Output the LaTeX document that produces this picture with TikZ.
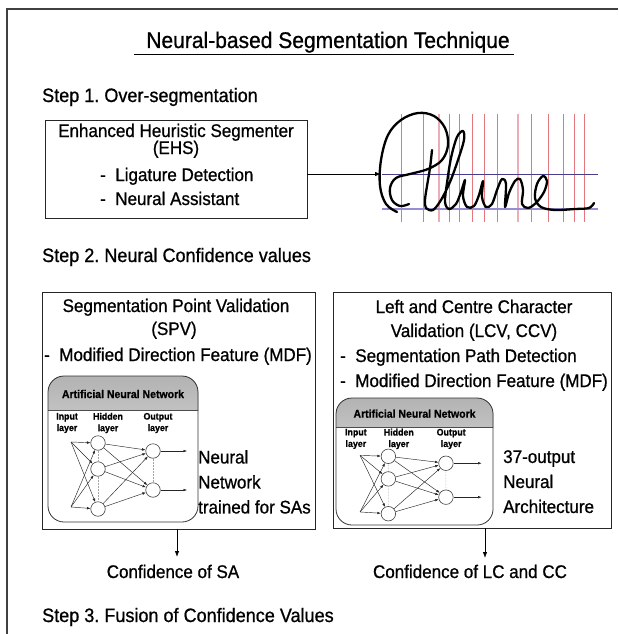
\documentclass[tikz,border=0pt]{standalone}
\usepackage{fontspec}
\setmainfont{Liberation Sans}[FakeStretch=0.93, FakeBold=0.8]
\usepackage{tikz}
\usetikzlibrary{arrows.meta,positioning,calc}
\definecolor{segred}{RGB}{228,118,126}
\definecolor{segpink}{RGB}{240,172,182}
\definecolor{zoneblue}{RGB}{72,62,140}
\definecolor{zonelav}{RGB}{150,142,212}
\frenchspacing

\begin{document}
\begin{tikzpicture}[
  x=1pt, y=-1pt,
  box/.style={draw=black!85, line width=0.9pt, inner sep=0pt},
  txt/.style={inner sep=0pt, font=\fontsize{18.3}{25}\selectfont},
  steplab/.style={inner sep=0pt, anchor=base west, font=\fontsize{19.4}{22}\selectfont},
  arr/.style={-{Latex[length=6pt,width=4.5pt]}, line width=0.8pt},
  cut/.style={segred, line width=0.8pt},
  ink/.style={line width=2.3pt, line cap=round, line join=round},
  neuron/.style={circle, draw=black!75, fill=white, line width=0.6pt, minimum size=14.5pt, inner sep=0pt},
  syn/.style={-{Latex[length=3.5pt,width=2.6pt]}, line width=0.45pt, draw=black!85},
  dotl/.style={densely dotted, draw=black!35, line width=0.5pt},
  lay/.style={inner sep=0pt, align=center, font=\bfseries\fontsize{9.5}{11.5}\selectfont},
  annlab/.style={inner sep=0pt, font=\bfseries\fontsize{11.3}{13}\selectfont}
]
\useasboundingbox (0,0) rectangle (618,634);
\draw[line width=1.2pt, black!75] (7,634) -- (7,9) -- (618,9);

\node[inner sep=0pt, anchor=base, font=\fontsize{22.6}{26}\selectfont] (title) at (328,48) {Neural-based Segmentation Technique};
\draw[line width=1pt] ($(title.base west)+(-12,7)$) -- ($(title.base east)+(4,7)$);

\node[steplab] (step1) at (42,102) {Step 1. Over-segmentation};
\node[steplab] (step2) at (42,262) {Step 2. Neural Confidence values};
\node[steplab] (step3) at (42,622) {Step 3. Fusion of Confidence Values};

\node[box, minimum width=262pt, minimum height=98pt] (ehs) at (176,169) {};
\node[txt, anchor=base] (ehsname) at (176,137) {Enhanced Heuristic Segmenter};
\node[txt, anchor=base] (ehsabbr) at (176,154) {(EHS)};
\node[txt, anchor=base west] (lig) at (100,181) {-\ \ Ligature Detection};
\node[txt, anchor=base west] (nass) at (100,205) {-\ \ Neural Assistant};

\foreach \x in {401.7,423.3,449.3,459.3,472,484.5,497.3,531.7,548.7,563,574.3,584.3}
  \draw[cut] (\x,114) -- (\x,222);
\foreach \x in {439,518}
  \draw[segpink, line width=1.3pt] (\x,114) -- (\x,222);
\draw[zoneblue, line width=0.9pt] (382,174) -- (598,174);
\draw[zonelav, line width=1.5pt] (382,209) -- (598,209);
\coordinate (word) at (381,174);
\draw[arr] (ehs.east |- word) -- (word);

\draw[ink] plot[smooth, tension=0.6] coordinates {(397,212) (386,204) (380,186) (381,160) (388,135) (401,120) (418,113) (434,116) (445,128) (448,145) (442,160) (428,169) (410,174) (396,178) (390,188) (392,200) (400,206) (409,204)};
\draw[ink] plot[smooth, tension=0.55] coordinates {(432,150) (430,168) (427,186) (425,200) (426,208) (433,210) (441,200) (450,182) (458,160) (464,140) (463,131) (457,137) (451,158) (447,183) (445,202) (449,209) (456,204) (461,192) (465,180) (463,196) (467,207) (474,206) (479,195) (483,181) (482,197) (486,207) (492,204) (497,190) (502,179) (506,184) (505,207) (509,193) (515,181) (520,179) (523,190) (522,204) (528,208) (536,203) (544,192) (547,181) (543,176) (537,184) (535,198) (541,207) (555,210) (575,209) (589,208) (594,203)};

\node[box, minimum width=273pt, minimum height=237pt] (spv) at (178.5,410.5) {};
\node[box, minimum width=278pt, minimum height=236pt] (lcv) at (472,410) {};

\node[txt, anchor=base] (spvname) at (176,312) {Segmentation Point Validation};
\node[txt, anchor=base] (spvabbr) at (174,335) {(SPV)};
\node[txt, anchor=base west] (spvmdf) at (44,361) {-\ \ Modified Direction Feature (MDF)};
\node[txt, anchor=north west, align=left] (spvnote) at (198,450) {Neural\\Network\\trained for SAs};

\node[txt, anchor=base] (lcvname) at (474,313) {Left and Centre Character};
\node[txt, anchor=base] (lcvabbr) at (474,337) {Validation (LCV, CCV)};
\node[txt, anchor=base west] (lcvpath) at (340,362) {-\ \ Segmentation Path Detection};
\node[txt, anchor=base west] (lcvmdf) at (340,387) {-\ \ Modified Direction Feature (MDF)};
\node[txt, anchor=north west, align=left] (lcvnote) at (503,450) {37-output\\Neural\\Architecture};

\foreach \nm/\ox/\oy/\sx/\sy in {annl/48/376/1/1, annr/336/398/1.047/0.87} {
  \begin{scope}[shift={(\ox,\oy)}, xscale=\sx, yscale=\sy]
    \fill[white, rounded corners=16pt] (0,0) rectangle (150,146);
    \begin{scope}
      \clip (0,0) rectangle (150,34);
      \fill[top color=black!30, bottom color=black!5, rounded corners=16pt] (0,0) rectangle (150,146);
    \end{scope}
    \draw[black!70, line width=0.7pt] (0,34) -- (150,34);
    \draw[black!80, line width=0.8pt, rounded corners=16pt] (0,0) rectangle (150,146);
    \node[annlab] (\nm-head) at (75,18) {Artificial Neural Network};
    \node[lay] (\nm-in) at (19,47) {Input\\layer};
    \node[lay] (\nm-hid) at (60,47) {Hidden\\layer};
    \node[lay] (\nm-out) at (110,47) {Output\\layer};
    \node[neuron] (\nm-h1) at (50,67) {};
    \node[neuron] (\nm-h2) at (50,93) {};
    \node[neuron] (\nm-h3) at (50,133) {};
    \node[neuron] (\nm-o1) at (105,75) {};
    \node[neuron] (\nm-o2) at (105,114) {};
    \coordinate (\nm-i1) at (23,66);
    \coordinate (\nm-i2) at (23,131);
    \coordinate (\nm-e1) at (139,75);
    \coordinate (\nm-e2) at (139,114);
    \draw[dotl] (\nm-h1) -- (\nm-h2);
    \draw[dotl] (\nm-h2) -- (\nm-h3);
    \draw[dotl] (\nm-o1) -- (\nm-o2);
    \foreach \i in {1,2}
      \foreach \h in {1,2,3}
        \draw[syn] (\nm-i\i) -- (\nm-h\h);
    \foreach \h in {1,2,3}
      \foreach \o in {1,2}
        \draw[syn] (\nm-h\h) -- (\nm-o\o);
    \foreach \o in {1,2}
      \draw[syn] (\nm-o\o) -- (\nm-e\o);
  \end{scope}
}

\node[txt, anchor=base] (confsa) at (173,578) {Confidence of SA};
\node[txt, anchor=base] (conflc) at (470,578) {Confidence of LC and CC};
\coordinate (spvtip) at (177,557);
\coordinate (lcvtip) at (485,558);
\draw[arr] (spv.south -| spvtip) -- (spvtip);
\draw[arr] (lcv.south -| lcvtip) -- (lcvtip);
\end{tikzpicture}
\end{document}
